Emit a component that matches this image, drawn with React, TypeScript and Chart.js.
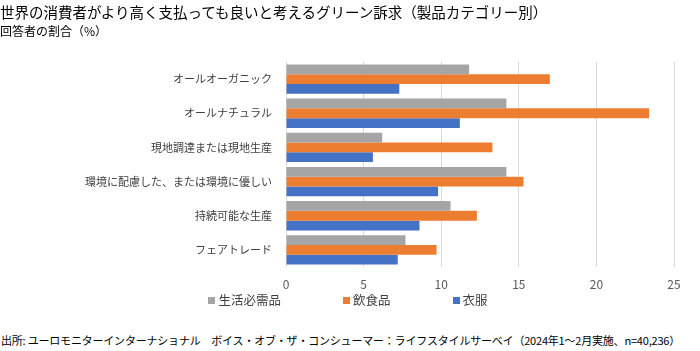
import React, { useEffect, useRef } from "react";
import { Chart, registerables } from "chart.js";

Chart.register(...registerables);

const titleText = "世界の消費者がより高く支払っても良いと考えるグリーン訴求（製品カテゴリー別）";
const subtitleText = "回答者の割合（%）";
const sourceText =
  "出所: ユーロモニターインターナショナル　ボイス・オブ・ザ・コンシューマー：ライフスタイルサーベイ（2024年1～2月実施、n=40,236）";

const categories = [
  "オールオーガニック",
  "オールナチュラル",
  "現地調達または現地生産",
  "環境に配慮した、または環境に優しい",
  "持続可能な生産",
  "フェアトレード",
];

const seriesNames = ["生活必需品", "飲食品", "衣服"];
const seriesColors = ["#A5A5A5", "#ED7D31", "#4472C4"];

const essentials = [11.8, 14.2, 6.2, 14.2, 10.6, 7.7];
const foodBeverage = [17.0, 23.4, 13.3, 15.3, 12.3, 9.7];
const apparel = [7.3, 11.2, 5.6, 9.8, 8.6, 7.2];

const xTicks = [0, 5, 10, 15, 20, 25];

const FONT = "'Noto Sans CJK JP', 'Noto Sans', sans-serif";

export default function App() {
  const ref = useRef<HTMLCanvasElement | null>(null);

  useEffect(() => {
    if (!ref.current) return;
    const values = [essentials, foodBeverage, apparel];
    const chart = new Chart(ref.current, {
      type: "bar",
      data: {
        labels: categories,
        datasets: seriesNames.map((name, i) => ({
          label: name,
          data: values[i],
          backgroundColor: seriesColors[i],
          borderWidth: 0,
          categoryPercentage: 0.86,
          barPercentage: 1.0,
        })),
      },
      options: {
        indexAxis: "y",
        responsive: false,
        animation: false,
        devicePixelRatio: 1,
        layout: { padding: { top: 62, right: 26, left: 0, bottom: 0 } },
        plugins: {
          legend: { display: false },
          title: { display: false },
          tooltip: { enabled: false },
        },
        scales: {
          x: {
            min: xTicks[0],
            max: xTicks[xTicks.length - 1],
            afterBuildTicks: (s: any) => {
              s.ticks = xTicks.map((v) => ({ value: v }));
            },
            afterFit: (s: any) => {
              s.height = 30;
            },
            grid: { color: "#D9D9D9", lineWidth: 1, drawTicks: false },
            border: { display: false },
            ticks: {
              padding: 10,
              color: "#595959",
              font: { family: FONT, size: 12 },
            },
          },
          y: {
            afterFit: (s: any) => {
              s.width = 286;
            },
            grid: { display: false, drawTicks: false },
            border: { display: false },
            ticks: {
              padding: 14,
              color: "#404040",
              font: { family: FONT, size: 11 },
            },
          },
        },
      },
    });
    return () => chart.destroy();
  }, []);

  const legendItem = (name: string, color: string) => (
    <div key={name} style={{ display: "flex", alignItems: "center" }}>
      <span
        style={{
          display: "inline-block",
          width: 7,
          height: 7,
          background: color,
          marginRight: 3,
        }}
      />
      <span>{name}</span>
    </div>
  );

  return (
    <div
      style={{
        position: "absolute",
        left: 0,
        top: 0,
        width: 700,
        height: 351,
        background: "#fff",
        fontFamily: FONT,
        overflow: "hidden",
      }}
    >
      <canvas
        ref={ref}
        width={700}
        height={297}
        style={{ position: "absolute", left: 0, top: 0 }}
      />
      <div
        style={{
          position: "absolute",
          left: 0,
          top: 3,
          fontSize: 14.5,
          lineHeight: "18px",
          color: "#000",
          whiteSpace: "nowrap",
        }}
      >
        {titleText}
      </div>
      <div
        style={{
          position: "absolute",
          left: 0,
          top: 24,
          fontSize: 12,
          lineHeight: "14px",
          color: "#000",
          whiteSpace: "nowrap",
        }}
      >
        {subtitleText}
      </div>
      <div
        style={{
          position: "absolute",
          left: 0,
          width: 700,
          top: 292,
          display: "flex",
          justifyContent: "center",
          gap: 62,
          fontSize: 12.5,
          lineHeight: "16px",
          color: "#404040",
          paddingRight: 4,
          boxSizing: "border-box",
        }}
      >
        {seriesNames.map((n, i) => legendItem(n, seriesColors[i]))}
      </div>
      <div
        style={{
          position: "absolute",
          left: 1,
          top: 333,
          fontSize: 11,
          lineHeight: "14px",
          color: "#000",
          whiteSpace: "nowrap",
          letterSpacing: -0.2,
        }}
      >
        {sourceText}
      </div>
    </div>
  );
}
